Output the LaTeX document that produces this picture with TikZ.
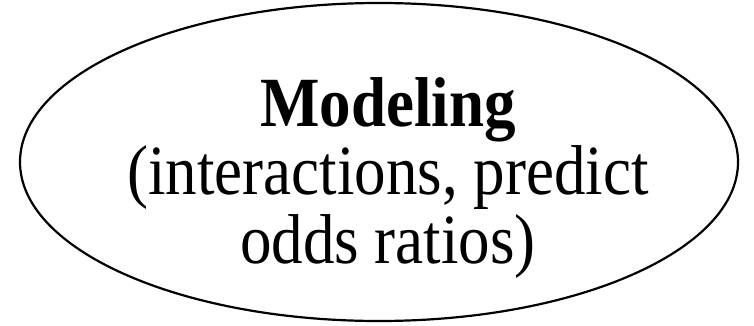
\documentclass[tikz,border=0pt]{standalone}
\usepackage{fontspec}
\setmainfont{Liberation Serif}
\usetikzlibrary{shapes.geometric,positioning}

\begin{document}
\begin{tikzpicture}[x=1pt,y=1pt,
  oval/.style={draw,ellipse,line width=2.2pt,minimum width=718pt,minimum height=318pt,inner sep=0pt},
  label text/.style={align=center,inner sep=0pt,yscale=1.12,transform shape,font=\fontsize{63}{61}\selectfont}
]
  \useasboundingbox (0,0) rectangle (754,325);
  \node[oval] (model) at (379,163) {};
  \node[label text] (modeltext) at ([xshift=9pt,yshift=-16pt]model.center) {\textbf{Modeling}\\(interactions, predict\\odds ratios)};
\end{tikzpicture}
\end{document}
